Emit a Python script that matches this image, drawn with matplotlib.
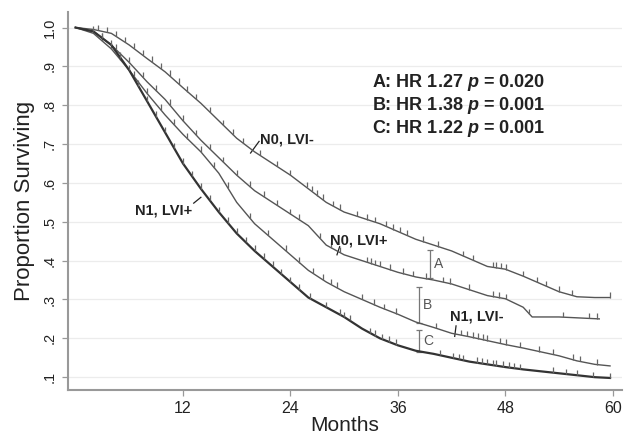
import numpy as np
import matplotlib
matplotlib.use("Agg")
import matplotlib.pyplot as plt

plt.rcParams['font.family'] = ['Liberation Sans', 'DejaVu Sans']
plt.rcParams['mathtext.fontset'] = 'custom'
plt.rcParams['mathtext.rm'] = 'Liberation Sans:bold'
plt.rcParams['mathtext.it'] = 'Liberation Sans:bold:italic'

# survival curves (months, proportion surviving)
n0_neg_t = [0, 2, 4, 6, 8, 10, 12, 14, 16, 18, 20, 22, 24, 26, 28, 30, 32, 34, 36, 38,
            40, 42, 44, 46, 48, 50, 52, 54, 56, 58, 59.7]
n0_neg_s = [1.0, 0.995, 0.985, 0.955, 0.92, 0.886, 0.845, 0.805, 0.76, 0.715, 0.68, 0.65,
            0.62, 0.585, 0.55, 0.525, 0.51, 0.495, 0.475, 0.455, 0.44, 0.425, 0.405, 0.385,
            0.378, 0.36, 0.34, 0.32, 0.307, 0.305, 0.305]

n0_pos_t = [0, 2, 4, 6, 8, 10, 12, 14, 16, 18, 20, 22, 24, 26, 28, 30, 32, 34, 36, 38,
            40, 42, 44, 46, 48, 50, 51, 54, 58.5]
n0_pos_s = [1.0, 0.99, 0.955, 0.91, 0.86, 0.815, 0.76, 0.71, 0.665, 0.62, 0.58, 0.55,
            0.52, 0.49, 0.44, 0.415, 0.4, 0.385, 0.37, 0.358, 0.35, 0.34, 0.325, 0.31,
            0.302, 0.28, 0.255, 0.255, 0.25]

n1_neg_t = [0, 2, 4, 6, 8, 10, 12, 14, 16, 18, 20, 22, 24, 26, 28, 30, 32, 34, 36, 38,
            40, 42, 44, 46, 48, 50, 52, 54, 56, 58, 59.7]
n1_neg_s = [1.0, 0.985, 0.945, 0.89, 0.83, 0.775, 0.725, 0.68, 0.625, 0.55, 0.495, 0.455,
            0.415, 0.375, 0.345, 0.32, 0.3, 0.28, 0.262, 0.242, 0.228, 0.213, 0.204, 0.194,
            0.184, 0.175, 0.165, 0.155, 0.142, 0.133, 0.129]

n1_pos_t = [0, 2, 4, 6, 8, 10, 12, 14, 16, 18, 20, 22, 24, 26, 28, 30, 32, 34, 36, 38,
            40, 42, 44, 46, 48, 50, 52, 54, 56, 58, 59.7]
n1_pos_s = [1.0, 0.99, 0.955, 0.89, 0.81, 0.73, 0.65, 0.585, 0.525, 0.47, 0.425, 0.385,
            0.345, 0.305, 0.28, 0.255, 0.225, 0.2, 0.182, 0.168, 0.16, 0.15, 0.14, 0.133,
            0.126, 0.12, 0.115, 0.11, 0.105, 0.1, 0.098]

# censoring times
n0_neg_c = [2.5, 3.5, 4.5, 5.5, 6.5, 7.5, 8.5, 9.5, 10.5, 11.5, 12.5, 13.5, 15, 16.5, 17.6,
            18.7, 20.6, 22.5, 24, 25.8, 26.4, 27, 27.6, 28.8, 29.5, 31.4, 32.6, 33.4, 34.7,
            35.5, 36.2, 37, 38.8, 40.5, 43.3, 44.4, 46.6, 47, 47.5, 48.1, 50, 51.5, 52.6,
            54, 55.5, 59.7]
n0_pos_c = [3, 4.5, 6, 7.5, 9, 10.5, 12, 13.5, 15, 16.5, 18, 19.5, 21, 22.5, 24, 25, 27.3,
            28.5, 29.5, 32.5, 33, 33.5, 34, 35.1, 36.6, 37.7, 39.2, 41, 41.8, 44, 46.6,
            47.3, 48.1, 50.7, 54.4, 57.4, 58.2]
n1_neg_c = [3, 4, 5, 6.5, 8, 9.5, 11, 12.5, 14, 15.5, 17, 19.5, 21.5, 23.5, 25, 26.5, 27.6,
            28.5, 29.2, 32, 33.3, 34.5, 35.8, 40.3, 43, 43.7, 44.4, 45, 45.5, 46, 47.4,
            48.1, 49.6, 51.8, 53.3, 55.6, 56.3, 58.2]
n1_pos_c = [2, 3, 4, 5, 6, 7, 8, 9, 10, 11, 12, 13, 14, 15, 16, 17, 18, 19, 20, 21, 22, 23,
            24, 25, 26.2, 28, 29.5, 30, 30.6, 32.9, 33.5, 34.2, 35, 35.8, 40.7, 42.2, 42.8,
            43.3, 44.8, 45.4, 46, 46.6, 47, 47.7, 48.4, 49, 49.6, 53.3, 54.8, 56, 57.8, 59.7]

curve_labels = ["N0, LVI-", "N0, LVI+", "N1, LVI-", "N1, LVI+"]
hr_lines = ["A: HR 1.27 $p$ = 0.020", "B: HR 1.38 $p$ = 0.001", "C: HR 1.22 $p$ = 0.001"]

bracket_names = ["A", "B", "C"]
bracket_x = [39.6, 38.4, 38.4]
bracket_lo = [0.355, 0.24, 0.166]
bracket_hi = [0.428, 0.333, 0.222]

yticks = [0.1, 0.2, 0.3, 0.4, 0.5, 0.6, 0.7, 0.8, 0.9, 1.0]
ytick_labels = [".1", ".2", ".3", ".4", ".5", ".6", ".7", ".8", ".9", "1.0"]
xticks = [12, 24, 36, 48, 60]

fig = plt.figure(figsize=(6.27, 4.38), dpi=100)
ax = fig.add_axes([0.1085, 0.1096, 0.883, 0.863])

for y in yticks:
    ax.axhline(y, color='#ececec', lw=0.9, zorder=0)

curves = [(n0_neg_t, n0_neg_s, n0_neg_c, '#555555', 1.0),
          (n0_pos_t, n0_pos_s, n0_pos_c, '#555555', 1.0),
          (n1_neg_t, n1_neg_s, n1_neg_c, '#555555', 1.0),
          (n1_pos_t, n1_pos_s, n1_pos_c, '#333333', 1.6)]
for t, s, c, col, lw in curves:
    ax.plot(t, s, color=col, lw=lw, zorder=3)
    cy = np.interp(c, t, s)
    ax.vlines(c, cy, cy + 0.014, color='#666666', lw=0.9, zorder=3)

# brackets between curves
for name, bx, lo, hi in zip(bracket_names, bracket_x, bracket_lo, bracket_hi):
    ax.vlines(bx, lo, hi, color='#777777', lw=0.9)
    ax.plot([bx, bx], [lo, hi], ls='none', marker='_', ms=5, mew=0.9, color='#777777')
    ax.text(bx + 0.4, (lo + hi) / 2, name, fontsize=10, color='#555555', va='center', ha='left')

# curve labels with leaders
ax.text(20.6, 0.713, curve_labels[0], fontsize=10.5, fontweight='bold', color='#222222', va='center')
ax.plot([20.5, 19.55], [0.707, 0.677], color='#222222', lw=0.9)
ax.text(28.4, 0.453, curve_labels[1], fontsize=10.5, fontweight='bold', color='#222222', va='center')
ax.plot([29.5, 29.2], [0.436, 0.415], color='#222222', lw=0.9)
ax.text(41.8, 0.256, curve_labels[2], fontsize=10.5, fontweight='bold', color='#222222', va='center')
ax.plot([42.5, 42.35], [0.232, 0.205], color='#222222', lw=0.9)
ax.text(6.6, 0.53, curve_labels[3], fontsize=10.5, fontweight='bold', color='#222222', va='center')
ax.plot([13.2, 14.0], [0.548, 0.563], color='#222222', lw=0.9)

for i, line in enumerate(hr_lines):
    ax.text(33.06, 0.859 - i * 0.059, line, fontsize=13, fontweight='bold',
            color='#222222', va='center', ha='left')

ax.set_xlim(-0.84, 61)
ax.set_ylim(0.067, 1.04)
ax.set_xticks(xticks)
ax.set_xticklabels([str(x) for x in xticks], fontsize=11.5, color='#222222')
ax.set_yticks(yticks)
ax.set_yticklabels(ytick_labels, fontsize=10.5, color='#222222', rotation=90, va='center')
ax.tick_params(axis='both', length=4, width=0.9, color='#999999', pad=4)
ax.set_xlabel("Months", fontsize=15, color='#222222', labelpad=0)
ax.set_ylabel("Proportion Surviving", fontsize=16, color='#222222', labelpad=6)

for side in ['top', 'right']:
    ax.spines[side].set_visible(False)
for side in ['left', 'bottom']:
    ax.spines[side].set_color('#999999')
    ax.spines[side].set_linewidth(1.5)

fig.savefig("out.png", dpi=100)
